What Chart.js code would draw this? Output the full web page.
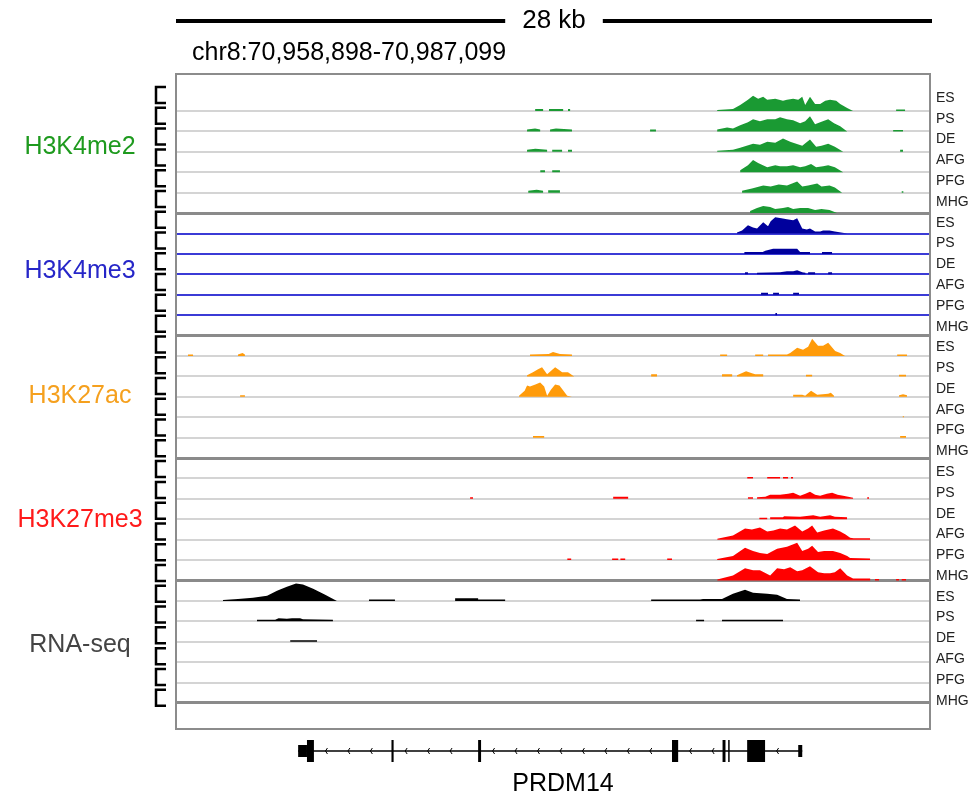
<!DOCTYPE html>
<html>
<head>
<meta charset="utf-8">
<script src="https://cdn.jsdelivr.net/npm/chart.js@4.4.0/dist/chart.umd.min.js"></script>
<style>
  html, body { margin: 0; padding: 0; background: #fff; }
  #wrap { width: 980px; height: 796px; }
</style>
</head>
<body>
<div id="wrap"><canvas id="chart1"></canvas></div>
<script>
const region = 'chr8:70,958,898-70,987,099';
const scaleText = '28 kb';
const regionKb = 28.12;

const marks = ['H3K4me2', 'H3K4me3', 'H3K27ac', 'H3K27me3', 'RNA-seq'];
const stages = ['ES', 'PS', 'DE', 'AFG', 'PFG', 'MHG'];
const markColors = ['#1a9a33', '#00009c', '#ff9b0a', '#ff0000', '#000000'];
const labelColors = ['#1e9a1e', '#2626c8', '#f5a01e', '#ff1a1a', '#444444'];

// low flat stretches: [start kb, end kb, height]
const k4me2Blocks = {
    ES: [[13.39, 13.69, 2], [13.91, 14.44, 2], [14.62, 14.70, 2], [26.89, 27.23, 1.5]],
    PS: [[17.69, 17.91, 2], [26.78, 27.15, 1.5]],
    DE: [[14.03, 14.40, 2], [14.62, 14.77, 2], [27.04, 27.15, 2]],
    AFG: [[13.58, 13.76, 2], [14.03, 14.32, 2]],
    PFG: [[13.88, 14.32, 2.5], [27.10, 27.17, 1.5]],
    MHG: []
};
// peaks: lists of [kb, height], each drops back to the baseline at both ends
const k4me2Peaks = {
    ES: [[[20.20, 1], [20.79, 2], [21.06, 6], [21.35, 11], [21.54, 15], [21.73, 12], [21.92, 14], [22.07, 11], [22.37, 12], [22.66, 10], [22.81, 11], [23.04, 12], [23.23, 11], [23.38, 14], [23.49, 6], [23.67, 14], [23.86, 7], [24.05, 7], [24.24, 10], [24.42, 11], [24.65, 10], [24.80, 7], [25.06, 3], [25.28, 0]]],
    PS: [[[13.09, 2], [13.39, 3], [13.58, 2]], [[13.95, 2], [14.17, 3], [14.77, 2]],
         [[20.20, 2], [20.57, 4], [20.79, 3], [21.06, 6], [21.35, 9], [21.54, 12], [21.80, 10], [22.07, 12], [22.37, 12], [22.55, 14], [22.81, 12], [23.04, 11], [23.30, 8], [23.49, 10], [23.67, 15], [23.86, 7], [24.05, 9], [24.35, 12], [24.57, 8], [24.80, 5], [25.06, 0]]],
    DE: [[[13.09, 2], [13.40, 3], [13.84, 2]],
         [[20.20, 1], [20.79, 2], [21.06, 4], [21.54, 8], [21.80, 7], [22.07, 10], [22.37, 9], [22.66, 13], [22.93, 10], [23.04, 9], [23.38, 6], [23.67, 12], [23.90, 5], [24.10, 6], [24.35, 8], [24.60, 5], [24.91, 0]]],
    AFG: [[[21.06, 2], [21.35, 7], [21.54, 12], [21.73, 9], [22.07, 5], [22.37, 7], [22.55, 6], [22.81, 6], [23.04, 7], [23.30, 5], [23.49, 6], [23.71, 8], [23.90, 5], [24.16, 6], [24.35, 7], [24.60, 5], [24.91, 0]]],
    PFG: [[[13.13, 2], [13.45, 3], [13.69, 2]],
          [[21.13, 2], [21.50, 4], [21.92, 7], [22.20, 6], [22.50, 8], [22.81, 7], [23.19, 11], [23.38, 6], [23.60, 7], [23.94, 9], [24.10, 6], [24.40, 7], [24.60, 5], [24.87, 0]]],
    MHG: [[[21.43, 2], [21.69, 5], [21.92, 7], [22.18, 6], [22.37, 4], [22.66, 5], [22.85, 6], [23.04, 4], [23.30, 5], [23.60, 5], [23.86, 3], [24.10, 4], [24.40, 3], [24.68, 0]]]
};

const k4me3Blocks = {
    ES: [],
    PS: [[24.12, 24.50, 2]],
    DE: [[21.24, 21.35, 2], [23.60, 23.86, 2], [24.35, 24.50, 2]],
    AFG: [[21.84, 22.10, 2], [22.29, 22.51, 2], [23.04, 23.26, 2]],
    PFG: [[22.37, 22.44, 2]],
    MHG: []
};
const k4me3Peaks = {
    ES: [[[20.94, 1], [21.13, 3], [21.35, 8], [21.54, 6], [21.69, 5], [21.92, 11], [22.10, 7], [22.20, 12], [22.37, 16], [22.60, 15], [22.81, 14], [23.04, 13], [23.19, 15], [23.38, 5], [23.55, 4], [23.67, 5], [23.86, 2], [24.05, 2], [24.16, 3], [24.40, 3], [24.60, 2], [25.06, 0]]],
    PS: [[[21.21, 2], [21.90, 2], [22.00, 3], [22.29, 5], [22.66, 5], [23.19, 5], [23.30, 2], [23.67, 2]]],
    DE: [[[21.69, 1.5], [22.55, 2], [22.81, 3], [23.04, 3], [23.19, 4], [23.38, 2], [23.50, 1.5]]],
    AFG: [], PFG: [], MHG: []
};

const k27acBlocks = {
    ES: [[0.41, 0.60, 1.5], [20.31, 20.57, 1.5], [21.62, 21.92, 1.5], [26.93, 27.30, 1.5]],
    PS: [[17.73, 17.95, 2], [20.38, 20.76, 2], [23.52, 23.75, 1.5], [27.00, 27.26, 1.5]],
    DE: [[2.36, 2.54, 1.5]],
    AFG: [[27.13, 27.19, 1]],
    PFG: [[13.31, 13.73, 1.5], [27.04, 27.26, 1.5]],
    MHG: []
};
const k27acPeaks = {
    ES: [[[2.28, 1.5], [2.45, 3], [2.54, 1.5]],
         [[13.20, 1.5], [13.90, 2], [14.06, 4], [14.32, 2], [14.77, 1.5]],
         [[22.10, 1.5], [22.81, 1.5], [22.93, 3], [23.19, 8], [23.41, 6], [23.60, 9], [23.75, 17], [23.97, 10], [24.16, 10], [24.35, 13], [24.61, 5], [24.80, 3], [24.98, 0]]],
    PS: [[[13.09, 1], [13.31, 4], [13.50, 7], [13.65, 9], [13.84, 2], [14.14, 9], [14.30, 6], [14.40, 4], [14.62, 4], [14.85, 0]],
         [[20.94, 1], [21.28, 5], [21.50, 3], [21.62, 2], [21.92, 2]]],
    DE: [[[12.79, 1], [13.00, 6], [13.09, 11], [13.20, 10], [13.40, 12], [13.58, 14], [13.73, 10], [13.84, 1], [13.98, 7], [14.14, 12], [14.30, 11], [14.45, 6], [14.59, 1], [14.77, 0]],
         [[23.04, 2], [23.38, 2], [23.49, 1], [23.71, 6], [23.94, 2], [24.35, 3], [24.45, 4], [24.57, 1]],
         [[27.00, 1.5], [27.15, 2.5], [27.30, 1.5]]],
    AFG: [], PFG: [], MHG: []
};

const k27me3Blocks = {
    ES: [[21.32, 21.54, 1.5], [22.07, 22.55, 1.5], [22.66, 22.85, 1.5], [22.96, 23.04, 1.5]],
    PS: [[10.96, 11.07, 1.5], [16.31, 16.87, 2], [21.35, 21.54, 1.5], [25.81, 25.88, 1.5]],
    DE: [[21.77, 22.07, 1.5]],
    AFG: [],
    PFG: [[14.59, 14.74, 1.5], [16.27, 16.50, 1.5], [16.58, 16.76, 1.5], [18.33, 18.51, 1.5]],
    MHG: [[26.10, 26.25, 1.5], [26.89, 27.00, 1.5], [27.10, 27.26, 1.5]]
};
const k27me3Peaks = {
    ES: [],
    PS: [[[21.69, 1.5], [22.00, 2], [22.18, 4], [22.55, 4], [22.85, 5], [23.04, 6], [23.30, 3], [23.50, 5], [23.67, 7], [23.86, 4], [24.05, 3], [24.30, 5], [24.50, 6], [24.70, 4], [24.91, 3], [25.28, 1]]],
    DE: [[[22.18, 2], [22.66, 2], [22.70, 3], [23.30, 2.5], [23.79, 4], [24.05, 2.5], [24.42, 4], [24.60, 2.5], [25.06, 2]]],
    AFG: [[[20.20, 1], [20.79, 4], [21.24, 11], [21.50, 10], [21.80, 12], [22.07, 8], [22.30, 9], [22.55, 11], [22.81, 10], [23.11, 14], [23.38, 8], [23.60, 11], [23.75, 14], [23.94, 7], [24.20, 9], [24.53, 11], [24.80, 8], [25.00, 5], [25.17, 2], [25.30, 1.5], [25.92, 1.5]]],
    PFG: [[[20.20, 1], [20.79, 4], [21.24, 12], [21.54, 9], [21.80, 7], [22.07, 6], [22.44, 11], [22.81, 13], [23.19, 17], [23.38, 9], [23.60, 11], [23.75, 14], [23.97, 8], [24.20, 9], [24.53, 9], [24.80, 7], [25.06, 4], [25.17, 2], [25.92, 1.5]]],
    MHG: [[[20.20, 1], [20.79, 5], [21.24, 12], [21.54, 10], [21.80, 10], [22.18, 5], [22.44, 12], [22.70, 11], [22.93, 13], [23.19, 9], [23.38, 10], [23.67, 14], [23.97, 8], [24.20, 7], [24.42, 7], [24.60, 8], [24.80, 12], [25.06, 5], [25.28, 2], [25.92, 2]]]
};

const rnaBlocks = {
    ES: [[7.18, 8.15, 1.5]],
    PS: [[19.41, 19.71, 1.5], [20.38, 22.66, 1.5]],
    DE: [[4.23, 5.24, 1.5]],
    AFG: [], PFG: [], MHG: []
};
const rnaPeaks = {
    ES: [[[1.72, 1], [2.28, 2], [2.84, 3], [3.37, 5], [3.74, 10], [4.11, 14], [4.45, 17], [4.71, 16], [5.09, 12], [5.54, 6], [5.98, 0]],
         [[10.40, 2.5], [11.26, 2.5], [11.26, 1.5], [12.27, 1.5]],
         [[17.73, 1.5], [19.56, 1.5], [19.67, 2], [20.38, 2], [20.79, 7], [21.24, 11], [21.54, 8], [22.07, 7], [22.44, 6], [22.81, 2], [23.30, 1.5]]],
    PS: [[[2.99, 1.5], [3.67, 1.5], [3.80, 3], [4.11, 2.5], [4.30, 3], [4.60, 3], [4.71, 2], [5.83, 1.5]]],
    DE: [], AFG: [], PFG: [], MHG: []
};

// PRDM14 gene model (kb from region start)
const geneName = 'PRDM14';
const geneStart = 4.53;
const geneEnd = 23.38;
const exonStarts = [4.53, 4.86, 8.02, 11.26, 18.51, 20.40, 20.61, 21.32, 23.23];
const exonEnds = [4.86, 5.12, 8.10, 11.37, 18.74, 20.51, 20.66, 21.99, 23.38];
const exonCoding = [false, true, true, true, true, true, true, true, false];

const allBlocks = [k4me2Blocks, k4me3Blocks, k27acBlocks, k27me3Blocks, rnaBlocks];
const allPeaks = [k4me2Peaks, k4me3Peaks, k27acPeaks, k27me3Peaks, rnaPeaks];

const trackStep = 20;
const nTracks = marks.length * stages.length;
const baseOf = (i) => (nTracks - 1 - i) * trackStep;

const datasets = [];
marks.forEach((m, g) => {
    stages.forEach((s, j) => {
        const i = g * stages.length + j;
        const base = baseOf(i);
        const pieces = [];
        allBlocks[g][s].forEach(b => pieces.push([[b[0], 0], [b[0], b[2]], [b[1], b[2]], [b[1], 0]]));
        allPeaks[g][s].forEach(p => pieces.push([[p[0][0], 0], ...p, [p[p.length - 1][0], 0]]));
        pieces.sort((a, b) => a[0][0] - b[0][0]);
        const pts = [].concat(...pieces).map(p => ({x: p[0], y: base + p[1]}));
        datasets.push({
            label: m + ' ' + s,
            data: pts,
            backgroundColor: markColors[g],
            borderColor: 'rgba(0,0,0,0)',
            borderWidth: 0,
            pointRadius: 0,
            tension: 0,
            fill: {value: base}
        });
    });
});

const baselines = [];
for (let i = 0; i < nTracks; i++) baselines.push(baseOf(i));

const FONT = "'Liberation Sans', Arial, sans-serif";

const annotate = {
    id: 'annotate',
    afterDraw(chart) {
        const {ctx, chartArea: a, scales: {x, y}} = chart;
        ctx.save();

        // frame
        ctx.strokeStyle = '#8c8c8c';
        ctx.lineWidth = 2;
        ctx.strokeRect(a.left - 1, a.top, a.right - a.left + 2, a.bottom - a.top);

        // scale bar
        const x0 = x.getPixelForValue(0) - 1, x1 = x.getPixelForValue(regionKb) + 3;
        const mid = (x0 + x1) / 2;
        ctx.font = '26px ' + FONT;
        ctx.fillStyle = '#000';
        ctx.textAlign = 'center';
        ctx.textBaseline = 'middle';
        ctx.fillText(scaleText, mid, 21);
        const half = ctx.measureText(scaleText).width / 2 + 17;
        ctx.lineWidth = 4;
        ctx.strokeStyle = '#000';
        ctx.beginPath();
        ctx.moveTo(x0, 21); ctx.lineTo(mid - half, 21);
        ctx.moveTo(mid + half, 21); ctx.lineTo(x1, 21);
        ctx.stroke();

        ctx.font = '25px ' + FONT;
        ctx.textAlign = 'left';
        ctx.fillText(region, 192, 53);

        // stage labels, brackets and mark labels
        for (let k = 0; k < nTracks; k++) {
            const ly = y.getPixelForValue(baseOf(k)) - 13 + 0.37 * k;
            ctx.font = '14px ' + FONT;
            ctx.fillStyle = '#222';
            ctx.textAlign = 'left';
            ctx.fillText(stages[k % stages.length], 936, ly);
            ctx.strokeStyle = '#000';
            ctx.lineWidth = 2.5;
            ctx.beginPath();
            ctx.moveTo(166, ly - 11);
            ctx.lineTo(156, ly - 11);
            ctx.lineTo(156, ly + 5);
            ctx.lineTo(166, ly + 5);
            ctx.stroke();
        }
        marks.forEach((m, g) => {
            const k = g * stages.length + 2.5;
            const ly = y.getPixelForValue(baseOf(0)) - 13 + k * 20.75 - 3;
            ctx.font = '25px ' + FONT;
            ctx.fillStyle = labelColors[g];
            ctx.textAlign = 'center';
            ctx.fillText(m, 80, ly);
        });

        // gene model
        const gy = a.bottom + 22;
        ctx.strokeStyle = '#000';
        ctx.lineWidth = 1.5;
        ctx.beginPath();
        ctx.moveTo(x.getPixelForValue(geneStart), gy);
        ctx.lineTo(x.getPixelForValue(geneEnd), gy);
        ctx.stroke();
        ctx.lineWidth = 1;
        for (let e = 0; e < exonStarts.length - 1; e++) {
            for (let p = exonEnds[e] + 0.45; p < exonStarts[e + 1] - 0.3; p += 0.84) {
                const px = x.getPixelForValue(p);
                ctx.beginPath();
                ctx.moveTo(px + 1.5, gy - 3);
                ctx.lineTo(px - 0.5, gy);
                ctx.lineTo(px + 1.5, gy + 3);
                ctx.stroke();
            }
        }
        ctx.fillStyle = '#000';
        exonStarts.forEach((s, e) => {
            const h = exonCoding[e] ? 22 : 12;
            const xs = x.getPixelForValue(s), xe = x.getPixelForValue(exonEnds[e]);
            ctx.fillRect(xs, gy - h / 2, Math.max(xe - xs, 1.5), h);
        });
        ctx.font = '25px ' + FONT;
        ctx.textAlign = 'center';
        ctx.fillText(geneName, 563, gy + 33);

        ctx.restore();
    }
};

const chart1 = new Chart(document.getElementById('chart1').getContext('2d'), {
    type: 'line',
    data: {datasets: datasets},
    options: {
        responsive: true,
        maintainAspectRatio: false,
        animation: false,
        events: [],
        layout: {padding: {left: 177, right: 51, top: 74, bottom: 67}},
        plugins: {legend: {display: false}, tooltip: {enabled: false}},
        scales: {
            x: {type: 'linear', min: 0, max: regionKb, display: false},
            y: {
                min: -25.5,
                max: 616.3,
                ticks: {display: false},
                border: {display: false},
                afterBuildTicks: (axis) => { axis.ticks = baselines.map(v => ({value: v})); },
                grid: {
                    drawTicks: false,
                    color: (c) => {
                        const i = nTracks - 1 - Math.round(c.tick.value / trackStep);
                        if (i % 6 === 5) return '#8a8a8a';
                        if (i >= 6 && i <= 10) return '#3b3bd6';
                        return '#d4d4d4';
                    },
                    lineWidth: (c) => {
                        const i = nTracks - 1 - Math.round(c.tick.value / trackStep);
                        return i % 6 === 5 ? 3 : 2;
                    }
                }
            }
        }
    },
    plugins: [annotate]
});
</script>
</body>
</html>
